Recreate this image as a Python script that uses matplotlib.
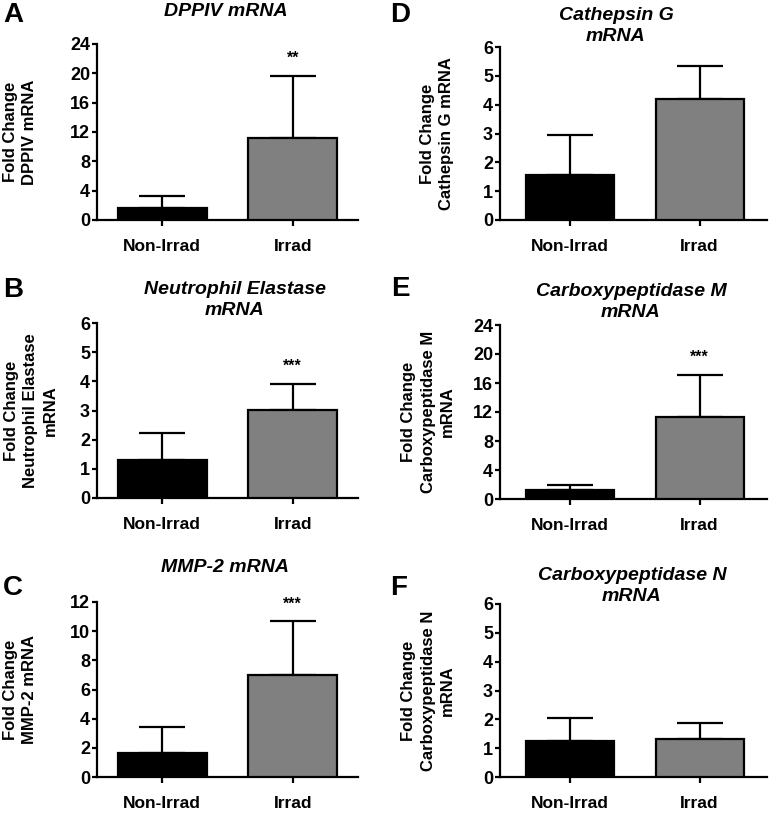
import numpy as np
import matplotlib.pyplot as plt

groups = ["Non-Irrad", "Irrad"]

dppiv_mean = [1.6, 11.2]
dppiv_err = [1.7, 8.5]

elastase_mean = [1.29, 3.03]
elastase_err = [0.94, 0.88]

mmp2_mean = [1.66, 6.98]
mmp2_err = [1.75, 3.7]

cathepsin_mean = [1.55, 4.2]
cathepsin_err = [1.4, 1.13]

cpm_mean = [1.2, 11.3]
cpm_err = [0.78, 5.8]

cpn_mean = [1.25, 1.33]
cpn_err = [0.8, 0.54]

W, H = 771, 814


def px(x, y):
    # pixel position (from top-left) -> figure fraction
    return x / W, 1 - y / H


def main():
    plt.rcParams['font.family'] = ['Liberation Sans', 'DejaVu Sans']
    plt.rcParams['font.weight'] = 'bold'

    fig = plt.figure(figsize=(W / 100, H / 100), dpi=100)

    # letter, title, ylabel, mean, err, ymax, step, stars, axes box(px), xlim,
    # title pos, ylabel x, letter pos
    panels = [
        ("A", "DPPIV mRNA", "Fold Change\nDPPIV mRNA", dppiv_mean, dppiv_err,
         24, 4, "**", (97, 44, 358, 220), (-0.5, 1.5), (226, 11), 20, (13, 15)),
        ("B", "Neutrophil Elastase\nmRNA", "Fold Change\nNeutrophil Elastase\nmRNA",
         elastase_mean, elastase_err, 6, 1, "***", (97, 323, 358, 498),
         (-0.5, 1.5), (235, 300), 31, (13, 290)),
        ("C", "MMP-2 mRNA", "Fold Change\nMMP-2 mRNA", mmp2_mean, mmp2_err,
         12, 2, "***", (97, 602, 358, 777), (-0.5, 1.5), (225, 568), 20, (13, 588)),
        ("D", "Cathepsin G\nmRNA", "Fold Change\nCathepsin G mRNA",
         cathepsin_mean, cathepsin_err, 6, 1, "", (500, 47, 767, 220),
         (-0.54, 1.52), (616, 26), 437, (400, 15)),
        ("E", "Carboxypeptidase M\nmRNA", "Fold Change\nCarboxypeptidase M\nmRNA",
         cpm_mean, cpm_err, 24, 4, "***", (500, 325, 767, 499),
         (-0.54, 1.52), (631, 302), 428, (400, 289)),
        ("F", "Carboxypeptidase N\nmRNA", "Fold Change\nCarboxypeptidase N\nmRNA",
         cpn_mean, cpn_err, 6, 1, "", (500, 604, 767, 777),
         (-0.54, 1.52), (632, 586), 428, (399, 588)),
    ]

    x = np.arange(len(groups))
    for (letter, title, ylabel, mean, err, ymax, step, stars, box, xlim,
         tpos, ylx, lpos) in panels:
        x0, y0, x1, y1 = box
        left, bottom = px(x0, y1)
        ax = fig.add_axes([left, bottom, (x1 - x0) / W, (y1 - y0) / H])

        ax.bar(x, mean, width=0.68, color=["black", "#808080"],
               edgecolor="black", linewidth=1.6, zorder=3)
        ax.errorbar(x, mean, yerr=[np.zeros(len(err)), err], fmt="none",
                    ecolor="black", elinewidth=1.6, capsize=16.5,
                    capthick=1.6, zorder=2)
        if stars:
            ax.annotate(stars, xy=(1, mean[1] + err[1]), xytext=(0, 12.5),
                        textcoords="offset points", ha="center", va="center",
                        fontsize=11.5, fontweight="bold")

        ax.set_xlim(*xlim)
        ax.set_ylim(0, ymax)
        ax.set_yticks(np.arange(0, ymax + step / 2, step))
        ax.set_xticks(x)
        ax.set_xticklabels(groups, fontsize=12.5, fontweight="bold")
        for lab in ax.get_yticklabels():
            lab.set_fontsize(13)
            lab.set_fontweight("bold")

        for s in ["top", "right"]:
            ax.spines[s].set_visible(False)
        for s in ["left", "bottom"]:
            ax.spines[s].set_linewidth(1.6)
        ax.tick_params(axis="y", length=3.5, width=1.6, pad=1.5)
        ax.tick_params(axis="x", length=4.5, width=1.6, pad=9)

        fig.text(*px(*tpos), title, ha="center", va="center", fontsize=14,
                 fontweight="bold", style="italic", linespacing=1.3)
        fig.text(*px(ylx, (y0 + y1) / 2), ylabel, rotation=90, ha="center",
                 va="center", multialignment="center", fontsize=12,
                 fontweight="bold", linespacing=1.35)
        fig.text(*px(*lpos), letter, ha="center", va="center", fontsize=20,
                 fontweight="bold")

    plt.savefig("out.png", dpi=100)
    plt.close()


if __name__ == "__main__":
    main()
